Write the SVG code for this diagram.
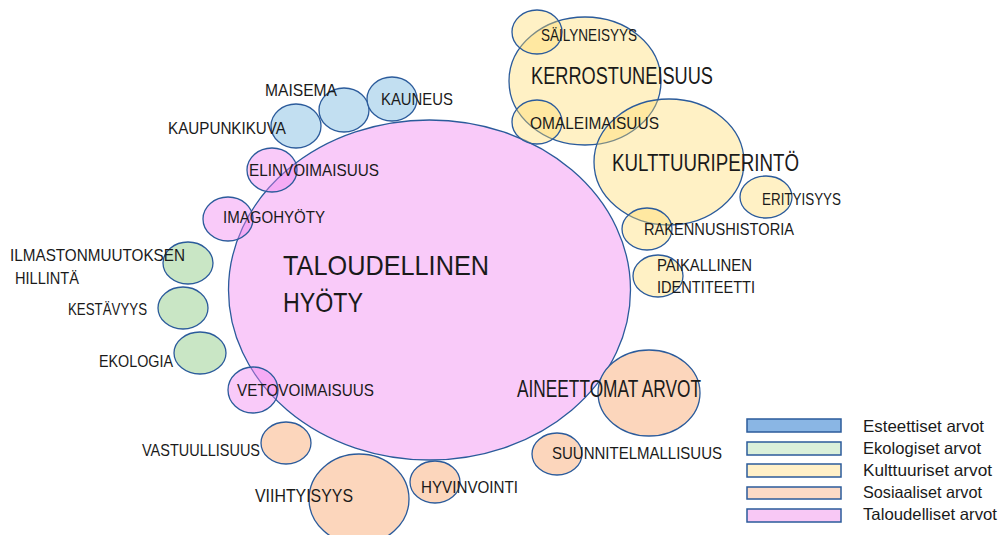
<svg xmlns="http://www.w3.org/2000/svg" width="1001" height="535" viewBox="0 0 1001 535">
<style>
.o{stroke:#2B5B9B;stroke-width:1.3}
.pk{fill:#F080F0;fill-opacity:0.42}
.yl{fill:#FFD966;fill-opacity:0.38}
.bl{fill:#BFDDF0;fill-opacity:0.95}
.gr{fill:#C9E6C5}
.pe{fill:#FCD6BC}
text{font-family:"Liberation Sans",Arial,sans-serif;fill:#1A1A1A}
.s{font-size:16.5px}
.l{font-size:23px}
.lg{font-size:16.5px}
.leg{stroke:#2B5B9B;stroke-width:1.5}
</style>
<rect width="1001" height="535" fill="#fff"/>
<g id="connectors"/>
<g id="taloudellinen">
<ellipse class="o pk" cx="429.5" cy="290" rx="201" ry="170"/>
<text x="283" y="275" style="font-size:28.5px" textLength="206" lengthAdjust="spacingAndGlyphs">TALOUDELLINEN</text>
<text x="283" y="312" style="font-size:28.5px" textLength="80" lengthAdjust="spacingAndGlyphs">HYÖTY</text>
</g>
<g id="kerrostuneisuus">
<ellipse class="o yl" cx="585" cy="81" rx="76" ry="64"/>
<text class="l" x="531" y="84" textLength="182" lengthAdjust="spacingAndGlyphs">KERROSTUNEISUUS</text>
</g>
<g id="kulttuuriperinto">
<ellipse class="o yl" cx="669" cy="162" rx="75" ry="63"/>
<text class="l" x="612" y="171" textLength="187" lengthAdjust="spacingAndGlyphs">KULTTUURIPERINTÖ</text>
</g>
<g id="sailyneisyys">
<ellipse class="o yl" cx="537" cy="32" rx="25" ry="22"/>
<text class="s" x="541" y="41" textLength="96" lengthAdjust="spacingAndGlyphs">SÄILYNEISYYS</text>
</g>
<g id="omaleimaisuus">
<ellipse class="o yl" cx="537" cy="122" rx="25" ry="22"/>
<text class="s" x="530" y="129" textLength="129" lengthAdjust="spacingAndGlyphs">OMALEIMAISUUS</text>
</g>
<g id="erityisyys">
<ellipse class="o yl" cx="766" cy="197" rx="26" ry="21"/>
<text class="s" x="762" y="205" textLength="79" lengthAdjust="spacingAndGlyphs">ERITYISYYS</text>
</g>
<g id="rakennushistoria">
<ellipse class="o yl" cx="647" cy="229" rx="25" ry="21"/>
<text class="s" x="644" y="235" textLength="150" lengthAdjust="spacingAndGlyphs">RAKENNUSHISTORIA</text>
</g>
<g id="paikallinen-identiteetti">
<ellipse class="o yl" cx="658" cy="276" rx="25" ry="21"/>
<text class="s" x="657" y="271" textLength="95" lengthAdjust="spacingAndGlyphs">PAIKALLINEN</text>
<text class="s" x="657" y="293" textLength="98" lengthAdjust="spacingAndGlyphs">IDENTITEETTI</text>
</g>
<g id="kaupunkikuva">
<ellipse class="o bl" cx="296" cy="126" rx="25" ry="22"/>
<text class="s" x="168" y="134" textLength="118" lengthAdjust="spacingAndGlyphs">KAUPUNKIKUVA</text>
</g>
<g id="maisema">
<ellipse class="o bl" cx="344" cy="110" rx="25" ry="22"/>
<text class="s" x="265" y="96" textLength="72" lengthAdjust="spacingAndGlyphs">MAISEMA</text>
</g>
<g id="kauneus">
<ellipse class="o bl" cx="392" cy="99" rx="25" ry="22"/>
<text class="s" x="381" y="105" textLength="72" lengthAdjust="spacingAndGlyphs">KAUNEUS</text>
</g>
<g id="elinvoimaisuus">
<ellipse class="o pk" cx="272" cy="170" rx="25" ry="22"/>
<text class="s" x="249" y="176" textLength="130" lengthAdjust="spacingAndGlyphs">ELINVOIMAISUUS</text>
</g>
<g id="imagohyoty">
<ellipse class="o pk" cx="228" cy="219" rx="25" ry="22"/>
<text class="s" x="223" y="223" textLength="102" lengthAdjust="spacingAndGlyphs">IMAGOHYÖTY</text>
</g>
<g id="ilmastonmuutoksen-hillinta">
<ellipse class="o gr" cx="188" cy="263" rx="25" ry="21"/>
<text class="s" x="10" y="261" textLength="175" lengthAdjust="spacingAndGlyphs">ILMASTONMUUTOKSEN</text>
<text class="s" x="15" y="283.5" textLength="64" lengthAdjust="spacingAndGlyphs">HILLINTÄ</text>
</g>
<g id="kestavyys">
<ellipse class="o gr" cx="183" cy="308" rx="25" ry="21"/>
<text class="s" x="68" y="315" textLength="79" lengthAdjust="spacingAndGlyphs">KESTÄVYYS</text>
</g>
<g id="ekologia">
<ellipse class="o gr" cx="200" cy="353" rx="26" ry="21"/>
<text class="s" x="99" y="367" textLength="74" lengthAdjust="spacingAndGlyphs">EKOLOGIA</text>
</g>
<g id="vetovoimaisuus">
<ellipse class="o pk" cx="253" cy="390" rx="25" ry="23"/>
<text class="s" x="237" y="396" textLength="137" lengthAdjust="spacingAndGlyphs">VETOVOIMAISUUS</text>
</g>
<g id="vastuullisuus">
<ellipse class="o pe" cx="286" cy="443" rx="25" ry="21"/>
<text class="s" x="142" y="456" textLength="118" lengthAdjust="spacingAndGlyphs">VASTUULLISUUS</text>
</g>
<g id="viihtyisyys">
<ellipse class="o pe" cx="359" cy="499" rx="50" ry="45"/>
<text x="255" y="501.5" style="font-size:18.5px" textLength="98" lengthAdjust="spacingAndGlyphs">VIIHTYISYYS</text>
</g>
<g id="hyvinvointi">
<ellipse class="o pe" cx="435" cy="482" rx="25" ry="21"/>
<text class="s" x="421" y="493" textLength="97" lengthAdjust="spacingAndGlyphs">HYVINVOINTI</text>
</g>
<g id="suunnitelmallisuus">
<ellipse class="o pe" cx="557" cy="454" rx="25" ry="21"/>
<text class="s" x="552" y="459" textLength="170" lengthAdjust="spacingAndGlyphs">SUUNNITELMALLISUUS</text>
</g>
<g id="aineettomat-arvot">
<ellipse class="o pe" cx="649" cy="393" rx="51" ry="43"/>
<text class="l" x="517" y="397" textLength="184" lengthAdjust="spacingAndGlyphs">AINEETTOMAT ARVOT</text>
</g>
<g id="legend">
<rect class="leg" x="747" y="419" width="94" height="13" fill="#8AB6E4"/>
<rect class="leg" x="747" y="442" width="94" height="13" fill="#DAF0DA"/>
<rect class="leg" x="747" y="464" width="94" height="13" fill="#FFF0C8"/>
<rect class="leg" x="747" y="487" width="94" height="12" fill="#FCDAC6"/>
<rect class="leg" x="747" y="509" width="94" height="13" fill="#F8C8F5"/>
<text class="lg" x="863" y="432" textLength="121" lengthAdjust="spacingAndGlyphs">Esteettiset arvot</text>
<text class="lg" x="863" y="454" textLength="118" lengthAdjust="spacingAndGlyphs">Ekologiset arvot</text>
<text class="lg" x="863" y="476" textLength="129" lengthAdjust="spacingAndGlyphs">Kulttuuriset arvot</text>
<text class="lg" x="863" y="498" textLength="119" lengthAdjust="spacingAndGlyphs">Sosiaaliset arvot</text>
<text class="lg" x="863" y="520" textLength="134" lengthAdjust="spacingAndGlyphs">Taloudelliset arvot</text>
</g>
</svg>
